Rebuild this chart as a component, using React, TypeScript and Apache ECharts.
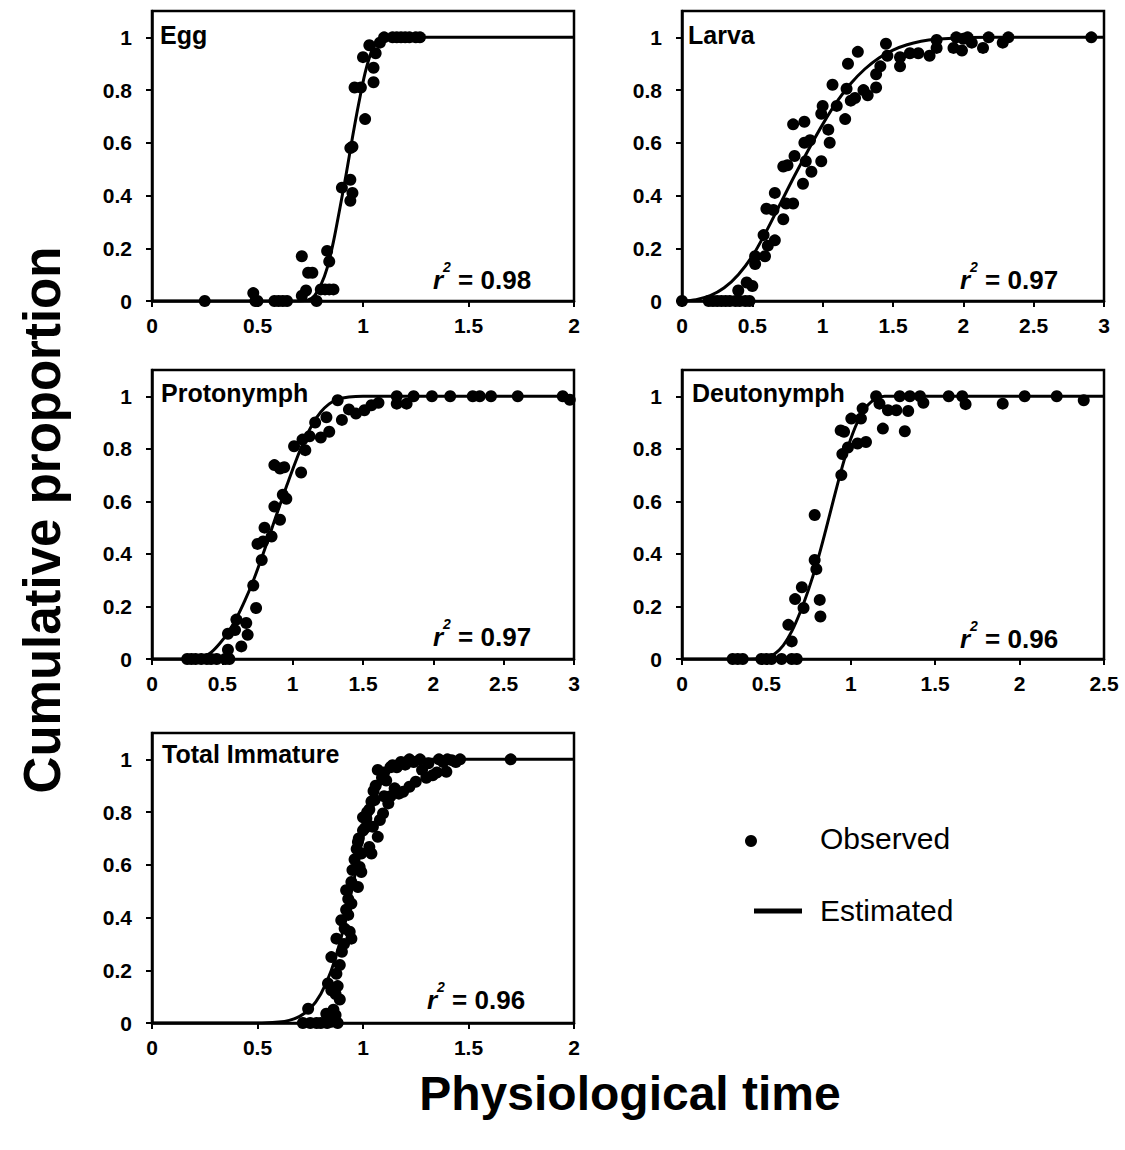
import React, { useEffect, useRef } from "react";
import * as echarts from "echarts";

const FONT = "'Liberation Sans', Arial, Helvetica, sans-serif";

const panelNames = ["Egg", "Larva", "Protonymph", "Deutonymph", "Total Immature"];
const r2Values = ["0.98", "0.97", "0.97", "0.96", "0.96"];
const xMaxes = [2, 3, 3, 2.5, 2];
const xInterval = 0.5;
const yTicks = [0, 0.2, 0.4, 0.6, 0.8, 1];

const eggObs = [
  [0.25, 0], [0.48, 0.03], [0.49, 0], [0.5, 0], [0.58, 0], [0.6, 0], [0.62, 0], [0.64, 0],
  [0.71, 0.17], [0.71, 0.02], [0.73, 0.04], [0.74, 0.107], [0.76, 0.107], [0.78, 0],
  [0.8, 0.044], [0.82, 0.044], [0.84, 0.044], [0.86, 0.044], [0.83, 0.19], [0.84, 0.15],
  [0.9, 0.43], [0.94, 0.46], [0.95, 0.41], [0.94, 0.38], [0.94, 0.58], [0.95, 0.585],
  [0.96, 0.81], [0.99, 0.81], [1.01, 0.69], [1.0, 0.925], [1.05, 0.885], [1.05, 0.83],
  [1.03, 0.97], [1.06, 0.94], [1.08, 0.98], [1.1, 1.0], [1.14, 1], [1.16, 1], [1.18, 1],
  [1.2, 1], [1.22, 1], [1.25, 1], [1.27, 1],
];
const eggFit = [
  [0, 0], [0.7, 0], [0.74, 0.004], [0.77, 0.02], [0.8, 0.06], [0.83, 0.125], [0.86, 0.225],
  [0.89, 0.35], [0.92, 0.48], [0.95, 0.62], [0.98, 0.75], [1.01, 0.865], [1.04, 0.945],
  [1.07, 0.985], [1.1, 0.998], [1.13, 1.0], [2, 1],
];

const larvaObs = [
  [0, 0], [0.19, 0], [0.22, 0], [0.25, 0], [0.28, 0], [0.31, 0], [0.34, 0], [0.38, 0],
  [0.41, 0], [0.45, 0], [0.48, 0], [0.4, 0.04], [0.46, 0.07], [0.5, 0.057], [0.52, 0.14],
  [0.52, 0.17], [0.59, 0.17], [0.58, 0.25], [0.61, 0.21], [0.66, 0.23], [0.6, 0.35],
  [0.65, 0.345], [0.66, 0.41], [0.72, 0.31], [0.74, 0.37], [0.79, 0.37], [0.72, 0.51],
  [0.75, 0.515], [0.8, 0.55], [0.86, 0.445], [0.92, 0.49], [0.88, 0.53], [0.91, 0.61],
  [0.87, 0.6], [0.79, 0.67], [0.87, 0.68], [0.99, 0.53], [1.05, 0.6], [1.04, 0.65],
  [0.99, 0.71], [1.0, 0.74], [1.1, 0.74], [1.16, 0.69], [1.07, 0.82], [1.17, 0.805],
  [1.2, 0.76], [1.23, 0.77], [1.18, 0.9], [1.25, 0.945], [1.29, 0.8], [1.32, 0.78],
  [1.38, 0.81], [1.38, 0.86], [1.41, 0.89], [1.45, 0.976], [1.46, 0.93], [1.55, 0.89],
  [1.55, 0.925], [1.62, 0.94], [1.68, 0.94], [1.76, 0.93], [1.81, 0.99], [1.81, 0.96],
  [1.93, 0.96], [1.95, 1.0], [1.99, 0.95], [2.0, 0.995], [2.03, 1.0], [2.06, 0.98],
  [2.14, 0.96], [2.18, 1.0], [2.28, 0.98], [2.32, 1.0], [2.91, 1.0],
];
const larvaFit = [
  [0, 0], [0.1, 0.005], [0.2, 0.02], [0.3, 0.05], [0.4, 0.1], [0.5, 0.17], [0.6, 0.265],
  [0.7, 0.37], [0.8, 0.475], [0.9, 0.575], [1.0, 0.67], [1.1, 0.755], [1.2, 0.825],
  [1.3, 0.88], [1.4, 0.922], [1.5, 0.952], [1.6, 0.972], [1.7, 0.985], [1.8, 0.993],
  [2.0, 0.999], [2.2, 1.0], [3, 1],
];

const protoObs = [
  [0.25, 0], [0.28, 0], [0.31, 0], [0.35, 0], [0.39, 0], [0.42, 0], [0.46, 0], [0.52, 0],
  [0.55, 0], [0.54, 0.035], [0.54, 0.096], [0.59, 0.11], [0.6, 0.15], [0.67, 0.137],
  [0.635, 0.048], [0.68, 0.092], [0.74, 0.194], [0.72, 0.28], [0.78, 0.377], [0.75, 0.438],
  [0.79, 0.447], [0.8, 0.5], [0.85, 0.466], [0.91, 0.53], [0.87, 0.58], [0.955, 0.61],
  [0.93, 0.625], [0.87, 0.738], [0.91, 0.725], [0.94, 0.73], [1.06, 0.71], [1.01, 0.81],
  [1.09, 0.795], [1.07, 0.835], [1.12, 0.848], [1.16, 0.9], [1.2, 0.843], [1.26, 0.865],
  [1.24, 0.92], [1.32, 0.985], [1.35, 0.91], [1.4, 0.95], [1.45, 0.934], [1.51, 0.947],
  [1.56, 0.966], [1.61, 0.975], [1.74, 1.0], [1.74, 0.972], [1.81, 0.972], [1.86, 1.0],
  [1.99, 1.0], [2.12, 1.0], [2.28, 1.0], [2.33, 1.0], [2.41, 1.0], [2.6, 1.0], [2.92, 1.0],
  [2.97, 0.987],
];
const protoFit = [
  [0, 0], [0.3, 0], [0.36, 0.006], [0.42, 0.025], [0.48, 0.058], [0.54, 0.1], [0.6, 0.155],
  [0.66, 0.222], [0.72, 0.298], [0.78, 0.385], [0.84, 0.478], [0.9, 0.572], [0.96, 0.663],
  [1.02, 0.75], [1.08, 0.828], [1.14, 0.893], [1.2, 0.94], [1.26, 0.971], [1.32, 0.988],
  [1.4, 0.997], [1.5, 1.0], [3, 1],
];

const deutoObs = [
  [0.3, 0], [0.33, 0], [0.36, 0], [0.47, 0], [0.5, 0], [0.53, 0], [0.59, 0], [0.65, 0],
  [0.68, 0], [0.65, 0.067], [0.63, 0.13], [0.67, 0.228], [0.71, 0.273], [0.72, 0.194],
  [0.786, 0.548], [0.786, 0.377], [0.796, 0.342], [0.816, 0.225], [0.82, 0.162],
  [0.944, 0.7], [0.95, 0.78], [0.983, 0.805], [0.94, 0.87], [0.96, 0.865], [1.003, 0.915],
  [1.04, 0.82], [1.09, 0.826], [1.06, 0.915], [1.07, 0.953], [1.15, 1.0], [1.17, 0.972],
  [1.19, 0.877], [1.22, 0.947], [1.27, 0.947], [1.29, 1.0], [1.32, 0.867], [1.34, 0.944],
  [1.35, 1.0], [1.41, 1.0], [1.43, 0.975], [1.58, 1.0], [1.66, 1.0], [1.68, 0.97],
  [1.9, 0.972], [2.03, 1.0], [2.22, 1.0], [2.38, 0.985],
];
const deutoFit = [
  [0, 0], [0.4, 0], [0.5, 0.005], [0.55, 0.02], [0.6, 0.052], [0.65, 0.105], [0.7, 0.178],
  [0.75, 0.265], [0.8, 0.368], [0.85, 0.487], [0.9, 0.612], [0.95, 0.733], [1.0, 0.838],
  [1.05, 0.916], [1.1, 0.966], [1.15, 0.991], [1.2, 1.0], [2.5, 1],
];

const totalObs = [
  [0.715, 0], [0.75, 0], [0.78, 0], [0.8, 0], [0.83, 0], [0.85, 0.005], [0.88, 0],
  [0.74, 0.054], [0.826, 0.035], [0.834, 0.15], [0.85, 0.124], [0.87, 0.11], [0.89, 0.089],
  [0.86, 0.05], [0.87, 0.03], [0.88, 0.14], [0.9, 0.27], [0.91, 0.3],
  [0.874, 0.187], [0.85, 0.25], [0.89, 0.22], [0.874, 0.32], [0.897, 0.39], [0.913, 0.358],
  [0.945, 0.32], [0.937, 0.346], [0.92, 0.504], [0.945, 0.453], [0.93, 0.47], [0.945, 0.535],
  [0.92, 0.43], [0.93, 0.41], [0.95, 0.58], [0.96, 0.62], [0.97, 0.66],
  [0.976, 0.516], [0.992, 0.573], [0.984, 0.592], [0.976, 0.687], [0.992, 0.643], [1.0, 0.73],
  [0.98, 0.7], [1.0, 0.78], [1.01, 0.74], [1.02, 0.8], [1.04, 0.84], [1.05, 0.88],
  [1.03, 0.668], [1.04, 0.643], [1.07, 0.706], [1.016, 0.776], [1.03, 0.81], [1.055, 0.846],
  [1.047, 0.744], [1.08, 0.77], [1.095, 0.795], [1.12, 0.833], [1.07, 0.96], [1.11, 0.92],
  [1.06, 0.9], [1.09, 0.93], [1.1, 0.95], [1.13, 0.97], [1.16, 0.97], [1.1, 0.86],
  [1.13, 0.86], [1.15, 0.89], [1.17, 0.87],
  [1.14, 0.978], [1.17, 0.98], [1.2, 0.98], [1.19, 0.877], [1.22, 0.896], [1.25, 0.915],
  [1.28, 0.96], [1.24, 0.99], [1.27, 1.0], [1.31, 0.985], [1.33, 0.94], [1.36, 1.0],
  [1.18, 0.99], [1.22, 1.0], [1.3, 0.93], [1.35, 0.95], [1.38, 0.99], [1.4, 1.0],
  [1.395, 0.953], [1.42, 0.997], [1.44, 0.99], [1.46, 1.0], [1.7, 1.0],
];
const totalFit = [
  [0, 0], [0.5, 0], [0.6, 0.004], [0.65, 0.01], [0.7, 0.025], [0.75, 0.055], [0.8, 0.11],
  [0.85, 0.2], [0.9, 0.335], [0.95, 0.515], [1.0, 0.705], [1.05, 0.848], [1.1, 0.93],
  [1.15, 0.972], [1.2, 0.99], [1.3, 1.0], [2, 1],
];

const observed = [eggObs, larvaObs, protoObs, deutoObs, totalObs];
const fitted = [eggFit, larvaFit, protoFit, deutoFit, totalFit];

// layout (pixels)
const grids = [
  { left: 152, top: 11, width: 422, height: 290 },
  { left: 682, top: 11, width: 422, height: 290 },
  { left: 152, top: 370, width: 422, height: 289 },
  { left: 682, top: 370, width: 422, height: 289 },
  { left: 152, top: 733, width: 422, height: 290 },
];
const namePos = [
  [160, 35], [688, 35], [161, 393], [692, 393], [162, 754],
];
const r2Pos = [
  [433, 280], [960, 280], [433, 637], [960, 639], [427, 1000],
];

export default function App() {
  const ref = useRef<HTMLDivElement>(null);
  useEffect(() => {
    if (!ref.current) return;
    const chart = echarts.init(ref.current, null, { renderer: "svg" });
    const black = "#000";
    const gridOpts = grids.map((g) => ({
      ...g,
      show: true,
      borderColor: black,
      borderWidth: 2.5,
      backgroundColor: "transparent",
      containLabel: false,
    }));
    const xAxes = grids.map((_, i) => ({
      type: "value",
      gridIndex: i,
      min: 0,
      max: xMaxes[i],
      interval: xInterval,
      axisLine: { show: true, lineStyle: { color: black, width: 2.5 } },
      axisTick: { show: true, inside: false, length: 6, lineStyle: { color: black, width: 2 } },
      axisLabel: {
        color: black,
        fontFamily: FONT,
        fontWeight: "bold",
        fontSize: 21,
        margin: 14,
      },
      splitLine: { show: false },
    }));
    const yAxes = grids.map((_, i) => ({
      type: "value",
      gridIndex: i,
      min: 0,
      max: 1.1,
      interval: 0.2,
      axisLine: { show: true, lineStyle: { color: black, width: 2.5 } },
      axisTick: {
        show: true,
        inside: false,
        length: 6,
        customValues: yTicks,
        lineStyle: { color: black, width: 2 },
      },
      axisLabel: {
        color: black,
        fontFamily: FONT,
        fontWeight: "bold",
        fontSize: 21,
        margin: 20,
        customValues: yTicks,
      },
      splitLine: { show: false },
    }));
    const series: any[] = [];
    grids.forEach((_, i) => {
      series.push({
        type: "line",
        xAxisIndex: i,
        yAxisIndex: i,
        data: fitted[i],
        smooth: 0.3,
        showSymbol: false,
        symbol: "none",
        lineStyle: { color: black, width: 3 },
        z: 2,
      });
      series.push({
        type: "scatter",
        xAxisIndex: i,
        yAxisIndex: i,
        data: observed[i],
        symbol: "circle",
        symbolSize: 12,
        itemStyle: { color: black, opacity: 1 },
        z: 3,
      });
    });
    const graphics: any[] = [];
    panelNames.forEach((name, i) => {
      graphics.push({
        type: "text",
        x: namePos[i][0],
        y: namePos[i][1],
        style: {
          text: name,
          font: `bold 25px ${FONT}`,
          fill: black,
          textAlign: "left",
          textVerticalAlign: "middle",
          align: "left",
          verticalAlign: "middle",
        },
      });
      graphics.push({
        type: "text",
        x: r2Pos[i][0],
        y: r2Pos[i][1],
        style: {
          text: `{r|r}{s|2}{n| = ${r2Values[i]}}`,
          fill: black,
          textAlign: "left",
          textVerticalAlign: "middle",
          align: "left",
          verticalAlign: "middle",
          rich: {
            r: { fontFamily: FONT, fontWeight: "bold", fontStyle: "italic", fontSize: 26, fill: black, color: black },
            s: {
              fontFamily: FONT,
              fontWeight: "bold",
              fontStyle: "italic",
              fontSize: 14,
              fill: black,
              color: black,
              padding: [0, 0, 26, 0],
            },
            n: { fontFamily: FONT, fontWeight: "bold", fontSize: 26, fill: black, color: black },
          },
        },
      });
    });
    // axis titles
    graphics.push({
      type: "text",
      x: 42,
      y: 520,
      rotation: Math.PI / 2,
      style: {
        text: "Cumulative proportion",
        font: `bold 51px ${FONT}`,
        fill: black,
        textAlign: "center",
        textVerticalAlign: "middle",
        align: "center",
        verticalAlign: "middle",
      },
    });
    graphics.push({
      type: "text",
      x: 630,
      y: 1093,
      style: {
        text: "Physiological time",
        font: `bold 48px ${FONT}`,
        fill: black,
        textAlign: "center",
        textVerticalAlign: "middle",
        align: "center",
        verticalAlign: "middle",
      },
    });
    // legend
    graphics.push({
      type: "circle",
      shape: { cx: 751, cy: 841, r: 6 },
      style: { fill: black },
    });
    graphics.push({
      type: "text",
      x: 820,
      y: 838,
      style: {
        text: "Observed",
        font: `30px ${FONT}`,
        fill: black,
        textAlign: "left",
        textVerticalAlign: "middle",
        align: "left",
        verticalAlign: "middle",
      },
    });
    graphics.push({
      type: "line",
      shape: { x1: 754, y1: 911, x2: 802, y2: 911 },
      style: { stroke: black, lineWidth: 5 },
    });
    graphics.push({
      type: "text",
      x: 820,
      y: 910,
      style: {
        text: "Estimated",
        font: `30px ${FONT}`,
        fill: black,
        textAlign: "left",
        textVerticalAlign: "middle",
        align: "left",
        verticalAlign: "middle",
      },
    });

    chart.setOption({
      animation: false,
      backgroundColor: "#fff",
      grid: gridOpts,
      xAxis: xAxes,
      yAxis: yAxes,
      series,
      graphic: graphics,
    });
    return () => chart.dispose();
  }, []);
  return (
    <div
      ref={ref}
      style={{ position: "fixed", left: 0, top: 0, width: 1125, height: 1150, background: "#fff" }}
    />
  );
}
